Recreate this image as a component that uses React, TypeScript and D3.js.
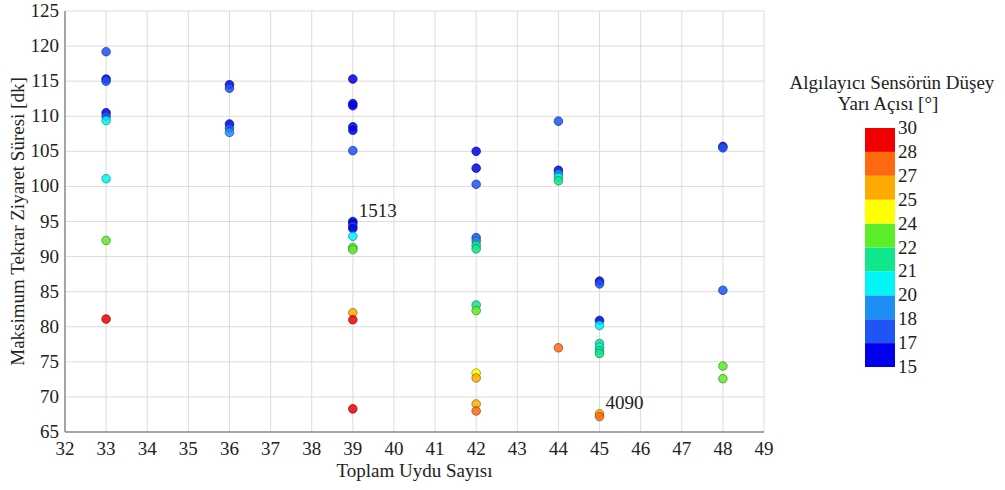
import React from "react";
import * as d3 from "d3";

// Data: total satellite count, max revisit time [min], sensor half-angle [deg]
const satCounts = [
  33, 33, 33, 33, 33, 33, 33, 33, 33,
  36, 36, 36, 36, 36,
  39, 39, 39, 39, 39, 39, 39, 39, 39, 39, 39, 39, 39, 39, 39, 39,
  42, 42, 42, 42, 42, 42, 42, 42, 42, 42, 42, 42, 42,
  44, 44, 44, 44, 44, 44,
  45, 45, 45, 45, 45, 45, 45, 45, 45, 45,
  48, 48, 48, 48, 48,
];
const revisitTimes = [
  119.2, 115.3, 115.0, 110.5, 110.0, 109.4, 101.1, 92.3, 81.1,
  114.5, 114.0, 108.9, 108.3, 107.7,
  115.3, 111.8, 111.5, 108.5, 108.0, 105.1, 95.0, 94.7, 94.3, 94.0, 92.9, 91.3, 91.0, 82.0, 81.0, 68.3,
  105.0, 102.6, 100.3, 92.7, 92.2, 91.6, 91.1, 83.1, 82.3, 73.4, 72.7, 69.0, 68.0,
  109.3, 102.3, 101.8, 101.3, 100.8, 77.0,
  86.5, 86.1, 80.9, 80.2, 77.6, 77.1, 76.6, 76.2, 67.6, 67.2,
  105.7, 105.5, 85.2, 74.4, 72.6,
];
const sensorAngles = [
  17.5, 16, 17.5, 16, 17.5, 20.5, 20.5, 23, 29,
  16, 17.5, 16, 17.5, 19,
  16, 16, 16, 16, 16, 17.5, 16, 16, 17.5, 16, 20.5, 23, 23, 26, 29, 29,
  16, 16, 17.5, 17.5, 19, 21.5, 21.5, 21.5, 23, 24.5, 26, 26, 27.5,
  17.5, 16, 19, 20.5, 21.5, 27.5,
  16, 17.5, 16, 20.5, 21.5, 20.5, 21.5, 21.5, 26, 27.5,
  16, 17.5, 17.5, 23, 23,
];

const xTicks = d3.range(32, 50, 1);
const yTicks = d3.range(65, 126, 5);

const legendBreaks = [15, 17, 18, 20, 21, 22, 24, 25, 27, 28, 30];
const legendColors = [
  "#0000ee", "#1f55f5", "#1e8ff5", "#00f5f5", "#10e68c",
  "#5cec2a", "#ffff00", "#ffaa00", "#ff6a10", "#f00000",
];

const annotations = [
  { x: 39, y: 95.0, label: "1513" },
  { x: 45, y: 67.6, label: "4090" },
];

const FONT = "'Liberation Serif', 'Times New Roman', serif";

export default function App() {
  const x = d3.scaleLinear().domain([32, 49]).range([65, 764]);
  const y = d3.scaleLinear().domain([65, 125]).range([432, 11]);
  const color = d3
    .scaleThreshold<number, string>()
    .domain(legendBreaks.slice(1, -1))
    .range(legendColors);

  // legend: equal-height bands, indexed by break position
  const legY = d3
    .scaleLinear()
    .domain([0, legendBreaks.length - 1])
    .range([367, 128]);
  const bandH = legY(0) - legY(1);

  const points = satCounts.map((s, i) => ({
    s,
    t: revisitTimes[i],
    a: sensorAngles[i],
  }));

  return (
    <svg
      width={1005}
      height={490}
      style={{ position: "absolute", left: 0, top: 0, background: "#fff" }}
      fontFamily={FONT}
    >
      <rect width={1005} height={490} fill="#fff" />
      {/* grid */}
      {xTicks.map((t) => (
        <line
          key={"gx" + t}
          x1={x(t)}
          x2={x(t)}
          y1={y(125)}
          y2={y(65)}
          stroke="#dcdcdc"
          strokeWidth={1}
        />
      ))}
      {yTicks.map((t) => (
        <line
          key={"gy" + t}
          x1={x(32)}
          x2={x(49)}
          y1={y(t)}
          y2={y(t)}
          stroke="#dcdcdc"
          strokeWidth={1}
        />
      ))}
      {/* axes */}
      <line x1={x(32)} x2={x(32)} y1={y(125)} y2={y(65)} stroke="#8c8c8c" strokeWidth={1.5} />
      <line x1={x(32)} x2={x(49)} y1={y(65)} y2={y(65)} stroke="#8c8c8c" strokeWidth={1.5} />
      {xTicks.map((t) => (
        <text
          key={"tx" + t}
          x={x(t)}
          y={455}
          fontSize={19}
          textAnchor="middle"
          fill="#222"
        >
          {t}
        </text>
      ))}
      {yTicks.map((t) => (
        <text
          key={"ty" + t}
          x={59}
          y={y(t) + 6}
          fontSize={19}
          textAnchor="end"
          fill="#222"
        >
          {t}
        </text>
      ))}
      <text x={(x(32) + x(49)) / 2} y={477} fontSize={19} textAnchor="middle" fill="#222">
        Toplam Uydu Sayısı
      </text>
      <text
        transform={`translate(24, ${(y(65) + y(125)) / 2}) rotate(-90)`}
        fontSize={19}
        textAnchor="middle"
        fill="#222"
      >
        Maksimum Tekrar Ziyaret Süresi [dk]
      </text>
      {/* points */}
      {points.map((p, i) => {
        const c = color(p.a);
        return (
          <circle
            key={"p" + i}
            cx={x(p.s)}
            cy={y(p.t)}
            r={4.3}
            fill={c}
            fillOpacity={0.85}
            stroke={d3.color(c)!.darker(1.6).formatHex()}
            strokeOpacity={0.7}
            strokeWidth={1}
          />
        );
      })}
      {annotations.map((a) => (
        <text
          key={a.label}
          x={x(a.x) + 6}
          y={y(a.y) - 5}
          fontSize={19}
          fill="#222"
        >
          {a.label}
        </text>
      ))}
      {/* legend */}
      <text x={892} y={89} fontSize={19} textAnchor="middle" fill="#222">
        Algılayıcı Sensörün Düşey
      </text>
      <text x={888} y={110} fontSize={19} textAnchor="middle" fill="#222">
        Yarı Açısı [°]
      </text>
      {legendColors.map((c, i) => (
        <rect
          key={"lb" + i}
          x={865}
          y={legY(i + 1)}
          width={30}
          height={bandH}
          fill={c}
        />
      ))}
      {legendBreaks.map((b, i) => (
        <text
          key={"ll" + i}
          x={898}
          y={legY(i) + 6}
          fontSize={19}
          fill="#222"
        >
          {b}
        </text>
      ))}
    </svg>
  );
}
